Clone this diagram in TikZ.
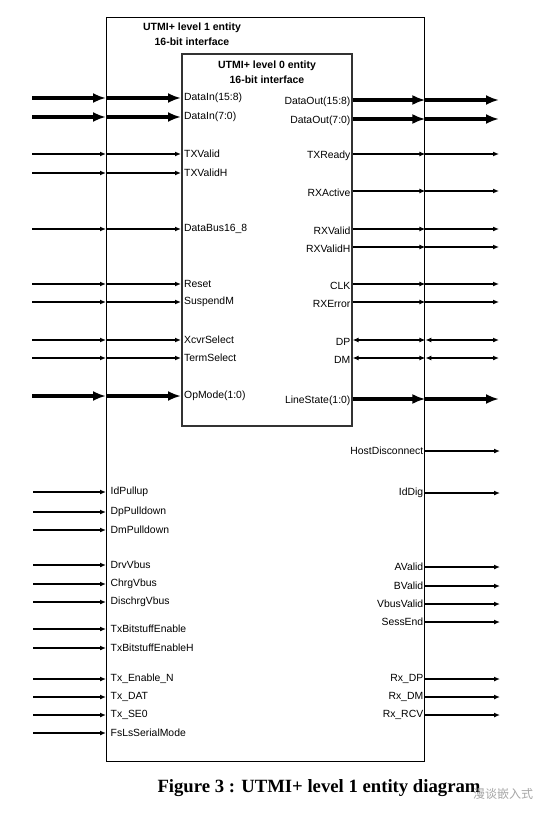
\documentclass[tikz,border=0pt]{standalone}
\usepackage{fontspec}
\setmainfont{Liberation Sans}
\newfontfamily\capfont{Liberation Serif}
\newfontfamily\cjkfont{Noto Sans CJK SC}
\usetikzlibrary{arrows.meta,positioning}

\tikzset{
  sig/.style={line width=1.5pt,-{Latex[length=6pt,width=5pt]}},
  bus/.style={line width=3.3pt,-{Latex[length=13pt,width=10pt]}},
  bidir/.style={line width=1.5pt,{Latex[length=6pt,width=5pt]}-{Latex[length=6pt,width=5pt]}},
  port/.style={font=\fontsize{10.4}{12}\selectfont,inner sep=0pt},
  ttl/.style={font=\fontsize{10.5}{15}\selectfont\bfseries,align=center}
}

\begin{document}
\begin{tikzpicture}[x=1pt,y=-1pt]
  \useasboundingbox (0,0) rectangle (552,818);
  % level 1 and level 0 entities
  \node[draw,line width=1.4pt,minimum width=318pt,minimum height=744pt,anchor=north west,inner sep=0pt] (l1) at (106,17) {};
  \node[draw=black!80,line width=1.6pt,minimum width=170pt,minimum height=372pt,anchor=north west,inner sep=0pt] (l0) at (181,53) {};
  \node[ttl] (t1) at (192,34.5) {UTMI+ level 1 entity\\16-bit interface};
  \node[ttl] (t0) at (267,72) {UTMI+ level 0 entity\\16-bit interface};

  % inputs of level 0
  \foreach \y/\txt/\st [count=\i] in {98/DataIn(15:8)/bus,117/DataIn(7:0)/bus,154/TXValid/sig,173/TXValidH/sig,229/DataBus16\_8/sig,284/Reset/sig,302/SuspendM/sig,340/XcvrSelect/sig,358/TermSelect/sig,396/OpMode(1:0)/bus}{
    \coordinate (a\i) at (32,\y);
    \node[port,anchor=west] (in\i) at ([xshift=3pt]a\i -| l0.west) {\txt};
    \draw[\st] (a\i) -- (a\i -| l1.west);
    \draw[\st] (a\i -| l1.west) -- (a\i -| l0.west);
  }

  % outputs of level 0
  \foreach \y/\txt/\st [count=\i] in {100/DataOut(15:8)/bus,119/DataOut(7:0)/bus,154/TXReady/sig,191/RXActive/sig,229/RXValid/sig,247/RXValidH/sig,284/CLK/sig,302/RXError/sig,340/DP/bidir,358/DM/bidir,399/LineState(1:0)/bus}{
    \coordinate (b\i) at (499,\y);
    \node[port,anchor=east] (out\i) at ([xshift=-2pt,yshift=-1.5pt]b\i -| l0.east) {\txt};
    \draw[\st] (b\i -| l0.east) -- (b\i -| l1.east);
    \draw[\st] (b\i -| l1.east) -- (b\i);
  }

  % level 1 inputs
  \foreach \y/\txt [count=\i] in {492/IdPullup,512/DpPulldown,530/DmPulldown,565/DrvVbus,584/ChrgVbus,602/DischrgVbus,629/TxBitstuffEnable,648/TxBitstuffEnableH,679/Tx\_Enable\_N,697/Tx\_DAT,715/Tx\_SE0,733/FsLsSerialMode}{
    \coordinate (c\i) at (33,\y);
    \node[port,anchor=west] (ctl\i) at ([xshift=4.5pt]c\i -| l1.west) {\txt};
    \draw[sig] (c\i) -- (c\i -| l1.west);
  }

  % level 1 outputs
  \foreach \y/\txt [count=\i] in {451/HostDisconnect,493/IdDig,567/AValid,586/BValid,604/VbusValid,622/SessEnd,679/Rx\_DP,697/Rx\_DM,715/Rx\_RCV}{
    \coordinate (d\i) at (500,\y);
    \node[port,anchor=east] (st\i) at ([xshift=-2pt]d\i -| l1.east) {\txt};
    \draw[sig] (d\i -| l1.east) -- (d\i);
  }

  \node[font=\capfont\fontsize{18.7}{20}\selectfont\bfseries,anchor=base] (cap) at (319,792) {Figure 3 : UTMI+ level 1 entity diagram};
  \node[font=\cjkfont\fontsize{12}{14}\selectfont,text=black!35] (wm) at (503,794) {漫谈嵌入式};
\end{tikzpicture}
\end{document}
